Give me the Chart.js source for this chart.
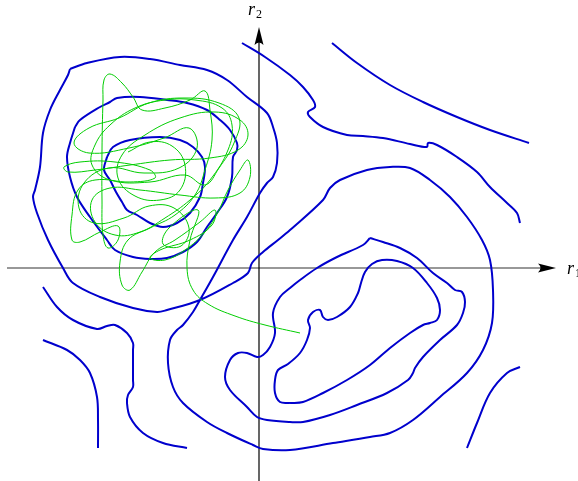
<!DOCTYPE html>
<html>
<head>
<meta charset="utf-8">
<script src="https://cdn.jsdelivr.net/npm/chart.js@4/dist/chart.umd.min.js"></script>
<style>
html, body { margin: 0; padding: 0; background: #fff; }
#wrap { width: 578px; height: 481px; }
</style>
</head>
<body>
<div id="wrap"><canvas id="chart" width="578" height="481"></canvas></div>
<script>
// phase plane (r1, r2): level curves and one trajectory
const r1Range = [-259, 319];
const r2Range = [-213, 268];
const r1Axis = [-252, 297];
const r2Axis = [-213, 241];

const contourOuter = [
	[-189, 199], [-172, 205], [-139, 211], [-109, 209], [-79, 203], [-52, 198], [-32, 188],
	[-12, 171], [8, 155], [14, 141], [18, 125], [18, 105], [14, 91], [8, 85], [1, 75],
	[-12, 51], [-26, 28], [-46, -9], [-59, -32], [-66, -44], [-76, -57], [-82, -62],
	[-89, -72], [-91, -95], [-86, -119], [-76, -135], [-52, -154], [-32, -165], [-6, -177],
	[4, -181], [31, -182], [74, -175], [111, -169], [131, -165], [154, -152], [181, -129],
	[208, -105], [224, -82], [233, -55], [234, -22], [231, 8], [223, 28], [208, 51],
	[191, 71], [171, 88], [151, 100], [131, 101], [108, 98], [81, 88], [71, 80], [64, 68],
	[31, 38], [19, 28], [4, 16], [-7, 5], [-11, -5], [-26, -15], [-59, -32], [-92, -42],
	[-102, -44], [-126, -40], [-159, -29], [-186, -15], [-196, 0], [-211, 28], [-222, 55],
	[-226, 71], [-224, 78], [-219, 101], [-216, 135], [-209, 158], [-199, 178], [-191, 193],
	[-189, 199],
];
const contourMiddle = [
	[-184, 141], [-179, 148], [-159, 161], [-149, 166], [-142, 170], [-119, 171], [-92, 168],
	[-72, 165], [-52, 158], [-39, 148], [-29, 138], [-22, 125], [-22, 118], [-26, 111],
	[-27, 91], [-32, 71], [-42, 55], [-52, 41], [-62, 26], [-76, 16], [-92, 10], [-109, 9],
	[-126, 11], [-144, 18], [-152, 28], [-169, 51], [-182, 71], [-189, 91], [-192, 111],
	[-189, 125], [-184, 141],
];
const contourInner = [
	[-152, 111], [-146, 121], [-129, 128], [-99, 131], [-79, 128], [-66, 121], [-57, 111],
	[-54, 101], [-56, 85], [-59, 71], [-69, 55], [-82, 45], [-96, 41], [-109, 45],
	[-122, 53], [-132, 58], [-137, 66], [-143, 76], [-149, 88], [-155, 98], [-152, 111],
];
const contourTop = [
	[-17, 225], [6, 211], [31, 193], [44, 181], [54, 168], [56, 161], [49, 156], [51, 151],
	[64, 141], [88, 133], [104, 132], [124, 130], [151, 124], [168, 121], [169, 125],
	[178, 123], [198, 111], [218, 96], [231, 81], [248, 65], [258, 55], [261, 45],
];
const contourTopRight = [
	[73, 225], [98, 205], [131, 183], [164, 166], [198, 151], [231, 138], [270, 125],
];
const contourRightInner = [
	[31, -135], [21, -134], [16, -125], [16, -112], [19, -102], [29, -96], [41, -85],
	[48, -72], [51, -60], [49, -52], [54, -44], [61, -42], [64, -49], [69, -52], [78, -49],
	[91, -39], [99, -25], [102, -15], [106, -4], [113, 4], [123, 8], [138, 7], [154, 0],
	[168, -15], [178, -30], [181, -42], [178, -52], [171, -55], [164, -57], [151, -65],
	[131, -80], [111, -97], [88, -112], [64, -125], [44, -134], [31, -135],
];
const contourRightMiddle = [
	[111, 30], [104, 23], [78, 11], [58, 0], [41, -12], [31, -20], [21, -29], [14, -45],
	[16, -65], [11, -79], [4, -87], [-2, -89], [-12, -85], [-21, -85], [-29, -92],
	[-34, -109], [-29, -122], [-12, -139], [-2, -149], [8, -152], [31, -154], [44, -154],
	[71, -147], [98, -137], [128, -125], [149, -112], [154, -105], [156, -100], [164, -89],
	[181, -72], [198, -57], [204, -45], [206, -34], [203, -24], [196, -22], [188, -15],
	[174, -5], [158, 10], [141, 20], [124, 26], [111, 30],
];
const contourLowLeftA = [
	[-216, -19], [-202, -39], [-186, -52], [-162, -61], [-152, -58], [-144, -57], [-132, -65],
	[-126, -75], [-126, -82], [-126, -112], [-126, -119], [-131, -127], [-132, -135],
	[-129, -149], [-116, -165], [-96, -175], [-72, -180],
];
const contourLowLeftB = [
	[-216, -72], [-192, -82], [-179, -92], [-169, -105], [-162, -129], [-161, -152], [-161, -180],
];
const contourLowRight = [
	[208, -180], [218, -155], [231, -125], [248, -105], [261, -99],
];

const trajectory = [
	[-131, 116], [-109, 126], [-87, 122], [-74, 103], [-79, 78], [-99, 68], [-124, 72],
	[-141, 90], [-137, 113], [-114, 133], [-79, 150], [-44, 156], [-19, 148], [-11, 133],
	[-21, 118], [-49, 110], [-89, 108], [-129, 103], [-164, 98], [-191, 96], [-195, 101],
	[-179, 106], [-144, 106], [-109, 98], [-104, 90], [-129, 86], [-164, 88], [-181, 78],
	[-187, 53], [-187, 28], [-179, 26], [-159, 36], [-141, 42], [-141, 28], [-151, 20],
	[-156, 33], [-157, 68], [-157, 118], [-156, 168], [-155, 188], [-149, 194], [-137, 185],
	[-126, 171], [-117, 158], [-94, 160], [-69, 168], [-54, 177], [-49, 158], [-47, 128],
	[-54, 98], [-64, 73], [-84, 53], [-109, 40], [-131, 28], [-139, 6], [-137, -17],
	[-129, -22], [-117, -4], [-104, 16], [-84, 28], [-59, 46], [-44, 58], [-47, 43],
	[-69, 28], [-99, 18], [-109, 10], [-94, 8], [-74, 18], [-54, 36], [-41, 56], [-31, 78],
	[-19, 98], [-11, 108], [-9, 91], [-19, 75], [-44, 70], [-79, 73], [-119, 78], [-149, 80],
	[-167, 68], [-164, 46], [-144, 33], [-119, 36], [-94, 50], [-69, 68], [-49, 88],
	[-31, 118], [-27, 143], [-37, 160], [-64, 168], [-94, 168], [-124, 160], [-149, 143],
	[-164, 123], [-167, 103], [-149, 88], [-109, 86], [-74, 93], [-54, 83],
	[-40, 100], [-25, 125], [-20, 150], [-40, 165], [-75, 170], [-110, 165], [-140, 150],
	[-170, 140], [-185, 125], [-170, 115], [-130, 120], [-95, 130], [-70, 140], [-62, 120],
	[-80, 100], [-115, 95], [-150, 100], [-175, 85], [-180, 60], [-165, 45], [-135, 50],
	[-110, 62], [-85, 60], [-70, 40], [-78, 22], [-96, 24], [-90, 40], [-61, 58],
	[-69, 28], [-72, 0], [-66, -22], [-51, -36], [-24, -48], [6, -57], [41, -65],
];

const contours = [
	contourOuter, contourMiddle, contourInner, contourTop, contourTopRight,
	contourRightInner, contourRightMiddle, contourLowLeftA, contourLowLeftB, contourLowRight,
];

const toPoints = (arr) => arr.map(([x, y]) => ({ x, y }));

function arrowHead(ctx, tx, ty, angle) {
	ctx.save();
	ctx.translate(tx, ty);
	ctx.rotate(angle);
	ctx.beginPath();
	ctx.moveTo(0, 0);
	ctx.lineTo(-18, -4.5);
	ctx.quadraticCurveTo(-13, 0, -18, 4.5);
	ctx.closePath();
	ctx.fill();
	ctx.restore();
}

const axesPlugin = {
	id: "axes",
	beforeDatasetsDraw(chart) {
		const { ctx, scales } = chart;
		const x0 = scales.x.getPixelForValue(0);
		const y0 = scales.y.getPixelForValue(0);
		const xa = scales.x.getPixelForValue(r1Axis[0]);
		const xb = scales.x.getPixelForValue(r1Axis[1]);
		const ya = scales.y.getPixelForValue(r2Axis[0]);
		const yb = scales.y.getPixelForValue(r2Axis[1]);
		ctx.save();
		ctx.lineWidth = 1.2;
		ctx.strokeStyle = "#333";
		ctx.fillStyle = "#000";
		ctx.beginPath();
		ctx.moveTo(xa, y0);
		ctx.lineTo(xb - 12, y0);
		ctx.stroke();
		arrowHead(ctx, xb, y0, 0);
		ctx.strokeStyle = "#000";
		ctx.beginPath();
		ctx.moveTo(x0, ya);
		ctx.lineTo(x0, yb + 12);
		ctx.stroke();
		arrowHead(ctx, x0, yb, -Math.PI / 2);

		ctx.font = 'italic 18px "Liberation Serif"';
		ctx.fillText("r", x0 - 11, yb - 12);
		ctx.fillText("r", xb + 11, y0 + 6);
		ctx.font = '12px "Liberation Serif"';
		ctx.fillText("2", x0 - 3, yb - 9);
		ctx.fillText("1", xb + 19, y0 + 9);
		ctx.restore();
	},
};

const datasets = contours.map((c) => ({
	data: toPoints(c),
	showLine: true,
	borderColor: "rgb(0, 0, 205)",
	borderWidth: 2,
	pointRadius: 0,
	tension: 0.35,
	order: 1,
}));
datasets.push({
	data: toPoints(trajectory),
	showLine: true,
	borderColor: "rgb(0, 205, 0)",
	borderWidth: 1,
	pointRadius: 0,
	tension: 0.4,
	order: 0,
});

new Chart(document.querySelector("#chart"), {
	type: "scatter",
	data: { datasets },
	options: {
		responsive: false,
		animation: false,
		layout: { padding: 0 },
		plugins: { legend: { display: false }, tooltip: { enabled: false } },
		scales: {
			x: { type: "linear", min: r1Range[0], max: r1Range[1], display: false },
			y: { type: "linear", min: r2Range[0], max: r2Range[1], display: false },
		},
	},
	plugins: [axesPlugin],
});
</script>
</body>
</html>
